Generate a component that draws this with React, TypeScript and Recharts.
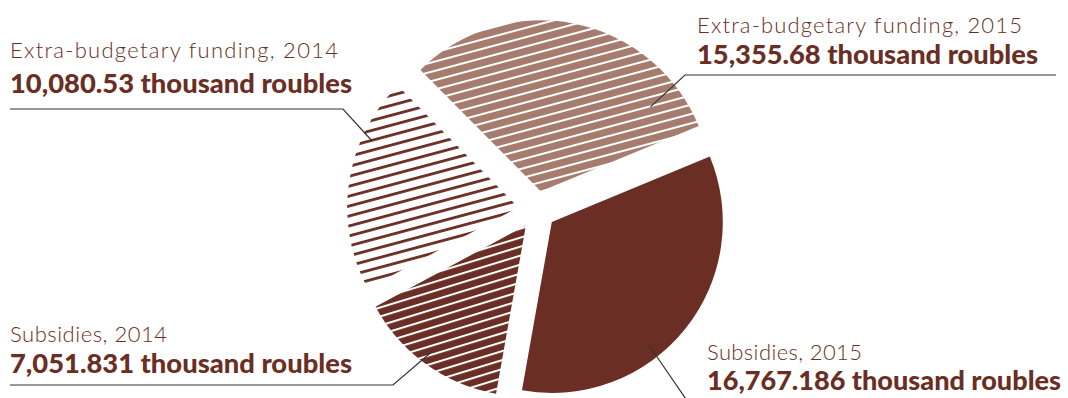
import { PieChart, Pie, Cell } from "recharts";

const CATEGORIES = [
  "Extra-budgetary funding, 2015",
  "Extra-budgetary funding, 2014",
  "Subsidies, 2014",
  "Subsidies, 2015",
];
const VALUES = [15355.68, 10080.53, 7051.831, 16767.186];
const VALUE_LABELS = [
  "15,355.68 thousand roubles",
  "10,080.53 thousand roubles",
  "7,051.831 thousand roubles",
  "16,767.186 thousand roubles",
];

const data = CATEGORIES.map((name, i) => ({ name, value: VALUES[i] }));

const WIDTH = 1068;
const HEIGHT = 398;
const CX = 537;
const CY = 210;
const RADIUS = 171;
const EXPLODE = 19;
const START = 22.5;
const TEXT = "#6a2e24";
const LINE = "#333333";
const RAD = Math.PI / 180;

// where each leader line starts inside its slice, and where the text sits
const LABEL_LAYOUT = [
  { shift: -41, rf: 0.81, elbow: [685, 75], endX: 1056, x: 697, titleY: 33, valueY: 64, titleW: 325, valueW: 341 },
  { shift: -16, rf: 0.94, elbow: [343, 109], endX: 10, x: 10, titleY: 58, valueY: 93, titleW: 328, valueW: 342 },
  { shift: -1, rf: 0.93, elbow: [393, 385], endX: 10, x: 10, titleY: 342, valueY: 373, titleW: 157, valueW: 342 },
  { shift: -13, rf: 0.92, elbow: [688, 402], endX: 1060, x: 707, titleY: 360, valueY: 390, titleW: 155, valueW: 354 },
];

const total = VALUES.reduce((a, b) => a + b, 0);
const midAngles = VALUES.map((v, i) => {
  const before = VALUES.slice(0, i).reduce((a, b) => a + b, 0);
  return START + ((before + v / 2) / total) * 360;
});

function renderLabel(target: number) {
  return (props: any) => {
    const { cx, cy, midAngle, outerRadius, index } = props;
    if (index !== target) return null;
    const lay = LABEL_LAYOUT[index];
    const a = (midAngle + lay.shift) * RAD;
    const r = outerRadius * lay.rf;
    const ax = cx + r * Math.cos(a);
    const ay = cy - r * Math.sin(a);
    return (
      <g>
        <polyline
          points={`${ax},${ay} ${lay.elbow[0]},${lay.elbow[1]} ${lay.endX},${lay.elbow[1]}`}
          fill="none"
          stroke={LINE}
          strokeWidth={1.2}
        />
        <text
          x={lay.x}
          y={lay.titleY}
          fill={TEXT}
          fontFamily="Lato"
          fontWeight={300}
          fontSize={22}
          textLength={lay.titleW}
          lengthAdjust="spacing"
        >
          {CATEGORIES[index]}
        </text>
        <text
          x={lay.x}
          y={lay.valueY}
          fill={TEXT}
          fontFamily="Lato"
          fontWeight={900}
          fontSize={27}
          textLength={lay.valueW}
          lengthAdjust="spacingAndGlyphs"
        >
          {VALUE_LABELS[index]}
        </text>
      </g>
    );
  };
}

export default function App() {
  return (
    <div style={{ width: WIDTH, height: HEIGHT }}>
      <style>{"body{margin:0}"}</style>
      <PieChart width={WIDTH} height={HEIGHT} margin={{ top: 0, right: 0, bottom: 0, left: 0 }}>
        <defs>
          <pattern id="pat0" patternUnits="userSpaceOnUse" width={10} height={9} patternTransform="rotate(-15)">
            <rect width={10} height={9} fill="#a67c6f" />
            <rect y={0} width={10} height={2} fill="#ffffff" />
          </pattern>
          <pattern id="pat1" patternUnits="userSpaceOnUse" width={10} height={9.6} patternTransform="rotate(-15)">
            <rect width={10} height={9.6} fill="#ffffff" />
            <rect y={0} width={10} height={2.8} fill="#6a2e24" />
          </pattern>
          <pattern id="pat2" patternUnits="userSpaceOnUse" width={10} height={8.6} patternTransform="rotate(-17)">
            <rect width={10} height={8.6} fill="#6a2e24" />
            <rect y={0} width={10} height={2} fill="#ffffff" />
          </pattern>
        </defs>
        {VALUES.map((_, target) => {
          const m = midAngles[target] * RAD;
          return (
            <Pie
              key={target}
              data={data}
              dataKey="value"
              nameKey="name"
              cx={CX + EXPLODE * Math.cos(m)}
              cy={CY - EXPLODE * Math.sin(m)}
              outerRadius={RADIUS}
              innerRadius={0}
              startAngle={START}
              endAngle={START + 360}
              stroke="none"
              isAnimationActive={false}
              label={renderLabel(target)}
              labelLine={false}
            >
              {data.map((d, i) => (
                <Cell
                  key={d.name}
                  fill={i !== target ? "none" : i === 3 ? "#6a2e24" : `url(#pat${i})`}
                  stroke="none"
                />
              ))}
            </Pie>
          );
        })}
      </PieChart>
    </div>
  );
}
